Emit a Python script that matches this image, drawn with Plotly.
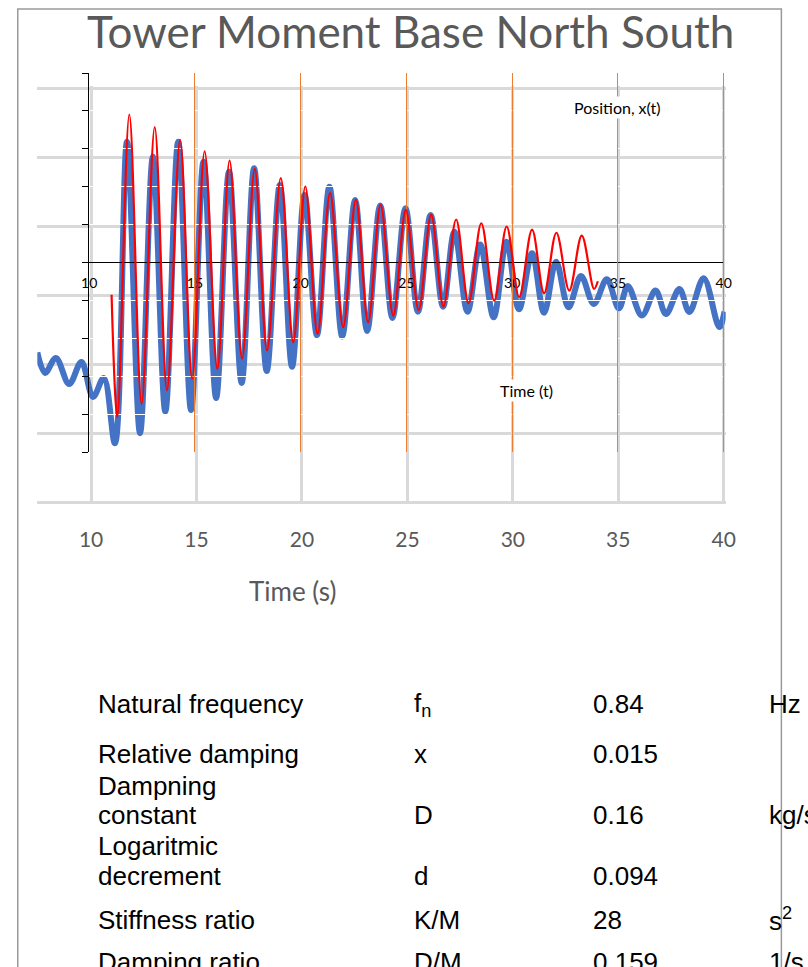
import plotly.graph_objects as go

W, H = 808, 967

# ---------------- data ----------------
# Background chart series (Tower moment base, blue) - time (s) / moment (grid units)
blue_t = [7.45, 7.82, 8.33, 8.96, 9.54, 10.09, 10.60, 11.13, 11.70, 12.32, 12.93, 13.52, 14.13,
          14.74, 15.33, 15.93, 16.54, 17.14, 17.73, 18.33, 18.95, 19.53, 20.12, 20.71, 21.30,
          21.91, 22.52, 23.09, 23.71, 24.29, 24.91, 25.50, 26.10, 26.69, 27.23, 27.85, 28.45,
          29.09, 29.70, 30.29, 30.91, 31.48, 32.05, 32.64, 33.23, 33.84, 34.46, 35.03, 35.45,
          36.12, 36.77, 37.26, 37.90, 38.37, 39.05, 39.79, 40.04]
blue_v = [-0.833, -1.130, -0.913, -1.290, -0.971, -1.478, -1.203, -2.149, 2.222, -2.004, 2.004,
          -1.691, 2.222, -1.667, 1.932, -1.493, 1.787, -1.275, 1.836, -1.101, 1.594, -1.039,
          1.449, -0.580, 1.570, -0.601, 1.377, -0.522, 1.297, -0.333, 1.257, -0.242, 1.159,
          -0.170, 0.917, -0.242, 0.732, -0.323, 0.772, -0.207, 0.604, -0.257, 0.483, -0.178,
          0.275, -0.130, 0.228, -0.193, 0.130, -0.297, 0.065, -0.275, 0.087, -0.246, 0.242,
          -0.464, -0.242]

# Overlay model: Position x(t) vs Time (t)
red_t = [11.06, 11.33, 11.90, 12.48, 13.10, 13.68, 14.30, 14.87, 15.46, 16.06, 16.64, 17.23,
         17.83, 18.41, 19.06, 19.65, 20.22, 20.80, 21.39, 22.01, 22.61, 23.19, 23.78, 24.38,
         24.97, 25.58, 26.17, 26.75, 27.35, 27.94, 28.54, 29.15, 29.74, 30.33, 30.94, 31.51,
         32.09, 32.70, 33.29, 33.87, 34.05]
red_v = [-0.17, -0.816, 0.781, -0.746, 0.714, -0.675, 0.647, -0.614, 0.587, -0.561, 0.538,
         -0.508, 0.494, -0.464, 0.445, -0.421, 0.401, -0.376, 0.366, -0.341, 0.331, -0.315,
         0.304, -0.280, 0.278, -0.250, 0.253, -0.232, 0.227, -0.215, 0.207, -0.201, 0.190,
         -0.183, 0.173, -0.162, 0.157, -0.148, 0.142, -0.139, -0.099]

x_ticks = [10, 15, 20, 25, 30, 35, 40]
orange_ticks = [15, 20, 25, 30, 35, 40]
bg_y_ticks = [-3, -2, -1, 0, 1, 2, 3]

title_text = "Tower Moment Base North South"
bg_x_title = "Time (s)"
ov_y_label = "Position, x(t)"
ov_x_label = "Time (t)"

param_names = [["Natural frequency"], ["Relative damping"], ["Dampning", "constant"],
               ["Logaritmic", "decrement"], ["Stiffness ratio"], ["Damping ratio"]]
param_symbols = ["f<sub>n</sub>", "x", "D", "d", "K/M", "D/M"]
param_values = ["0.84", "0.015", "0.16", "0.094", "28", "0.159"]
param_units = ["Hz", "", "kg/s", "", "s<sup>2</sup>", "1/s"]


def px(p):
    return p / W


def py(p):
    return 1 - p / H


fig = go.Figure()
fig.add_trace(go.Scatter(x=blue_t, y=blue_v, xaxis="x", yaxis="y", mode="lines",
                         line=dict(color="#4472C4", width=6, shape="spline", smoothing=1),
                         hoverinfo="skip", showlegend=False))
fig.add_trace(go.Scatter(x=[], y=[], xaxis="x2", yaxis="y2", mode="lines",
                         hoverinfo="skip", showlegend=False))
fig.add_trace(go.Scatter(x=red_t, y=red_v, xaxis="x3", yaxis="y3", mode="lines",
                         line=dict(color="#FF0000", width=2.2, shape="spline", smoothing=1),
                         hoverinfo="skip", showlegend=False))

gray_txt = "#595959"
fig.update_layout(
    width=W, height=H, autosize=False,
    margin=dict(l=0, r=0, t=0, b=0),
    paper_bgcolor="white", plot_bgcolor="rgba(0,0,0,0)",
    showlegend=False,
    xaxis=dict(domain=[px(30), px(734)], range=[7.4498, 40.0927], anchor="y",
               tickvals=x_ticks, ticktext=[str(v) for v in x_ticks],
               ticks="outside", ticklen=17, tickcolor="rgba(0,0,0,0)",
               tickfont=dict(family="Lato", size=21, color=gray_txt),
               showgrid=True, gridcolor="#D9D9D9", gridwidth=2.5,
               zeroline=False, showline=False),
    yaxis=dict(domain=[py(504.07), py(85.93)], range=[-3.03, 3.03], anchor="x",
               tickvals=bg_y_ticks, showticklabels=False, ticks="",
               showgrid=True, gridcolor="#D9D9D9", gridwidth=3,
               zeroline=False, showline=False),
    xaxis2=dict(domain=[px(83), px(732)], range=[10, 40], anchor="free", position=py(262),
                tickvals=x_ticks, ticktext=[str(v) for v in x_ticks],
                ticks="outside", ticklen=8, tickcolor="rgba(0,0,0,0)",
                tickfont=dict(family="Lato", size=14, color="black"),
                showgrid=False, zeroline=False, showline=True, linecolor="black", linewidth=1),
    yaxis2=dict(domain=[py(452), py(73)], range=[-1, 1], anchor="x2",
                tick0=0, dtick=0.2, showticklabels=False,
                ticks="outside", ticklen=6, tickcolor="black", tickwidth=1,
                showgrid=True, gridcolor="white", gridwidth=1,
                zeroline=False, showline=True, linecolor="black", linewidth=1),
    xaxis3=dict(domain=[px(83), px(734.16)], range=[10, 40.1], anchor="y3",
                tickvals=orange_ticks, showticklabels=False, ticks="",
                showgrid=True, gridcolor="#ED7D31", gridwidth=1.2,
                zeroline=False, showline=False),
    yaxis3=dict(domain=[py(452), py(73)], range=[-1, 1], anchor="x3",
                showgrid=False, showticklabels=False, ticks="", zeroline=False, showline=False),
)

ann = []
ann.append(dict(text=title_text, xref="paper", yref="paper", x=px(412), y=py(31),
                xanchor="center", yanchor="middle", showarrow=False,
                font=dict(family="Lato", size=44, color=gray_txt)))
ann.append(dict(text=bg_x_title, xref="paper", yref="paper", x=px(291), y=py(591),
                xanchor="center", yanchor="middle", showarrow=False,
                font=dict(family="Lato", size=26, color=gray_txt)))
ann.append(dict(text=ov_y_label, xref="x3", yref="y3", x=35.0, y=0.82,
                xanchor="center", yanchor="middle", showarrow=False, bgcolor="white",
                font=dict(family="Lato", size=16, color="black")))
ann.append(dict(text=ov_x_label, xref="x3", yref="y3", x=30.69, y=-0.675,
                xanchor="center", yanchor="middle", showarrow=False, bgcolor="white",
                font=dict(family="Lato", size=16, color="black")))

row_line_y = [[703], [753], [785, 814], [845, 875], [918.5], [961]]
tfont = dict(family="Liberation Sans, Arial", size=26, color="black")
for names, sym, val, unit, ys in zip(param_names, param_symbols, param_values, param_units, row_line_y):
    for name, yy in zip(names, ys):
        ann.append(dict(text=name, xref="paper", yref="paper", x=px(90), y=py(yy + 1),
                        xanchor="left", yanchor="middle", showarrow=False, font=tfont))
    ylast = ys[-1] + 1
    for txt, xx in ((sym, 413), (val, 596), (unit, 776)):
        if txt:
            ann.append(dict(text=txt, xref="paper", yref="paper", x=px(xx), y=py(ylast),
                            xanchor="left", yanchor="middle", showarrow=False, font=tfont))
fig.update_layout(annotations=ann)

fig.add_shape(type="rect", xref="paper", yref="paper", x0=px(10), x1=px(791),
              y0=-0.2, y1=py(9), line=dict(color="#9A9A9A", width=1.5),
              fillcolor="rgba(0,0,0,0)", layer="above")

fig.write_html(
    "out.html",
    include_plotlyjs=True,
    config={"responsive": False, "displayModeBar": False},
    post_script="document.body.style.margin='0';document.body.style.overflow='hidden';",
)
